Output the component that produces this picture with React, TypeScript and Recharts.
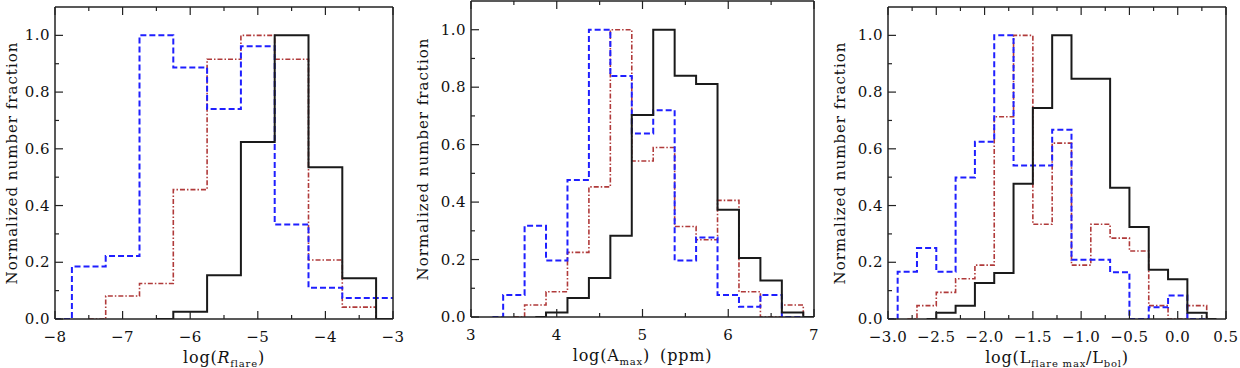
import React from 'react';
import { LineChart, Line, XAxis, YAxis, Label } from 'recharts';

// panel 1: log(R_flare), bin centres
const rBins = [-8, -7.5, -7, -6.5, -6, -5.5, -5, -4.5, -4, -3.5, -3];
const rBlack = [null, null, null, 0, 0.026, 0.154, 0.624, 1.0, 0.535, 0.144, 0];
const rBlue = [0, 0.185, 0.222, 1.0, 0.887, 0.74, 0.962, 0.333, 0.11, 0.074, 0.074];
const rRed = [null, 0, 0.081, 0.125, 0.456, 0.916, 1.0, 0.916, 0.208, 0.042, 0];
const rTicks = [-8, -7.5, -7, -6.5, -6, -5.5, -5, -4.5, -4, -3.5, -3];
const rLabels = [-8, -7, -6, -5, -4, -3];

// panel 2: log(A_max)
const aBins = [3.25, 3.5, 3.75, 4, 4.25, 4.5, 4.75, 5, 5.25, 5.5, 5.75, 6, 6.25, 6.5, 6.75, 7];
const aBlack = [null, null, 0, 0.016, 0.066, 0.136, 0.283, 0.703, 1.0, 0.84, 0.811, 0.373, 0.205, 0.127, 0.016, 0];
const aBlue = [0, 0.077, 0.318, 0.197, 0.477, 1.0, 0.839, 0.639, 0.72, 0.197, 0.277, 0.077, 0.036, 0.077, 0, 0];
const aRed = [null, 0, 0.042, 0.088, 0.225, 0.453, 1.0, 0.543, 0.59, 0.315, 0.269, 0.406, 0.088, 0, 0.042, 0];
const aTicks = [3, 3.5, 4, 4.5, 5, 5.5, 6, 6.5, 7];
const aLabels = [3, 4, 5, 6, 7];

// panel 3: log(L_flare max / L_bol)
const lBins = [-3, -2.8, -2.6, -2.4, -2.2, -2, -1.8, -1.6, -1.4, -1.2, -1, -0.8, -0.6, -0.4, -0.2, 0, 0.2, 0.4];
const lBlack = [null, null, 0, 0.022, 0.047, 0.127, 0.162, 0.477, 0.744, 1.0, 0.847, 0.847, 0.463, 0.324, 0.174, 0.14, 0.022, 0];
const lBlue = [0, 0.167, 0.25, 0.167, 0.499, 0.625, 1.0, 0.541, 0.541, 0.667, 0.209, 0.209, 0.165, 0, 0.041, 0.083, 0, 0];
const lRed = [null, 0, 0.047, 0.094, 0.142, 0.19, 0.713, 1.0, 0.334, 0.62, 0.19, 0.334, 0.285, 0.24, 0.047, 0, 0.047, 0];
const lTicks = [-3, -2.75, -2.5, -2.25, -2, -1.75, -1.5, -1.25, -1, -0.75, -0.5, -0.25, 0, 0.25, 0.5];
const lLabels = [-3, -2.5, -2, -1.5, -1, -0.5, 0, 0.5];

const yTicks = [0, 0.1, 0.2, 0.3, 0.4, 0.5, 0.6, 0.7, 0.8, 0.9, 1.0];
const yLabels = [0, 0.2, 0.4, 0.6, 0.8, 1.0];

const FONT = '"DejaVu Serif", serif';
const AXIS = '#222';

const buildRows = (bins: number[], black: any[], blue: any[], red: any[]) =>
  bins.map((x, i) => ({ x, black: black[i], blue: blue[i], red: red[i] }));

const minus = (s: string) => s.replace('-', '\u2212');

function BottomTick(props: any) {
  const { x, y, payload, labels, digits } = props;
  const major = labels.includes(payload.value);
  return (
    <g>
      <line x1={x} y1={y} x2={x} y2={y - (major ? 8 : 4)} stroke={AXIS} strokeWidth={1.2} />
      {major && (
        <text x={x} y={y + 23} textAnchor="middle" fontFamily={FONT} fontSize={15} fill="#111" letterSpacing={0.5}>
          {minus(payload.value.toFixed(digits))}
        </text>
      )}
    </g>
  );
}

function TopTick(props: any) {
  const { x, y, payload, labels } = props;
  const major = labels.includes(payload.value);
  return <line x1={x} y1={y} x2={x} y2={y + (major ? 8 : 4)} stroke={AXIS} strokeWidth={1.2} />;
}

function LeftTick(props: any) {
  const { x, y, payload } = props;
  const major = yLabels.includes(payload.value);
  return (
    <g>
      <line x1={x} y1={y} x2={x + (major ? 8 : 4)} y2={y} stroke={AXIS} strokeWidth={1.2} />
      {major && (
        <text x={x - 5} y={y + 5} textAnchor="end" fontFamily={FONT} fontSize={15} fill="#111" letterSpacing={0.5}>
          {payload.value.toFixed(1)}
        </text>
      )}
    </g>
  );
}

function RightTick(props: any) {
  const { x, y, payload } = props;
  const major = yLabels.includes(payload.value);
  return <line x1={x} y1={y} x2={x - (major ? 8 : 4)} y2={y} stroke={AXIS} strokeWidth={1.2} />;
}

function Panel({ rows, domain, ticks, labels, digits, width, left, yAxisWidth, titleX, margin, xHeight, xTitle }: any) {
  return (
    <div style={{ position: 'absolute', left, top: 0 }}>
      <LineChart width={width} height={368} data={rows} margin={margin}>
        <XAxis
          dataKey="x"
          type="number"
          domain={domain}
          ticks={ticks}
          interval={0}
          allowDataOverflow
          height={xHeight}
          tickSize={0}
          tickMargin={0}
          tickLine={false}
          axisLine={{ stroke: AXIS, strokeWidth: 1.5 }}
          tick={(p: any) => <BottomTick {...p} labels={labels} digits={digits} />}
        >
          <Label
            content={(p: any) => {
              const vb = p.viewBox;
              return (
                <text x={vb.x + vb.width / 2} y={vb.y + 44} textAnchor="middle" fontFamily={FONT} fontSize={16} fill="#111" letterSpacing={0.8}>
                  {xTitle}
                </text>
              );
            }}
          />
        </XAxis>
        <XAxis
          xAxisId="top"
          orientation="top"
          dataKey="x"
          type="number"
          domain={domain}
          ticks={ticks}
          interval={0}
          allowDataOverflow
          height={1}
          tickSize={0}
          tickMargin={0}
          tickLine={false}
          axisLine={{ stroke: AXIS, strokeWidth: 1.5 }}
          tick={(p: any) => <TopTick {...p} labels={labels} />}
        />
        <YAxis
          type="number"
          domain={[0, 1.1]}
          ticks={yTicks}
          interval={0}
          allowDataOverflow
          width={yAxisWidth}
          tickSize={0}
          tickMargin={0}
          tickLine={false}
          axisLine={{ stroke: AXIS, strokeWidth: 1.5 }}
          tick={(p: any) => <LeftTick {...p} />}
        >
          <Label
            content={(p: any) => {
              const vb = p.viewBox;
              const cx = vb.x + titleX;
              const cy = vb.y + vb.height / 2;
              return (
                <text
                  x={cx}
                  y={cy}
                  transform={`rotate(-90 ${cx} ${cy})`}
                  textAnchor="middle"
                  dominantBaseline="central"
                  fontFamily={FONT}
                  fontSize={15}
                  fill="#111"
                  letterSpacing={1}
                >
                  Normalized number fraction
                </text>
              );
            }}
          />
        </YAxis>
        <YAxis
          yAxisId="right"
          orientation="right"
          type="number"
          domain={[0, 1.1]}
          ticks={yTicks}
          interval={0}
          width={1}
          tickSize={0}
          tickMargin={0}
          tickLine={false}
          axisLine={{ stroke: AXIS, strokeWidth: 1.5 }}
          tick={(p: any) => <RightTick {...p} />}
        />
        <Line type="step" dataKey="red" stroke="#b03a3a" strokeWidth={1.6} strokeDasharray="5 2 1.5 2" dot={false} isAnimationActive={false} />
        <Line type="step" dataKey="blue" stroke="#1f1fff" strokeWidth={2} strokeDasharray="6 3" dot={false} isAnimationActive={false} />
        <Line type="step" dataKey="black" stroke="#1a1a1a" strokeWidth={2} dot={false} isAnimationActive={false} />
      </LineChart>
    </div>
  );
}

const sub = { fontSize: 10 };

export default function App() {
  return (
    <div style={{ position: 'absolute', left: 0, top: 0, width: 1240, height: 368, background: '#fff', overflow: 'hidden' }}>
      <Panel
        rows={buildRows(rBins, rBlack, rBlue, rRed)}
        domain={[-8, -3]}
        ticks={rTicks}
        labels={rLabels}
        digits={0}
        left={0}
        width={412}
        yAxisWidth={55}
        titleX={12}
        margin={{ top: 6, right: 18, bottom: 0, left: 0 }}
        xHeight={49}
        xTitle={
          <>
            log(<tspan fontStyle="italic">R</tspan>
            <tspan {...sub} dy={4}>flare</tspan>
            <tspan dy={-4}>)</tspan>
          </>
        }
      />
      <Panel
        rows={buildRows(aBins, aBlack, aBlue, aRed)}
        domain={[3, 7]}
        ticks={aTicks}
        labels={aLabels}
        digits={0}
        left={410}
        width={410}
        yAxisWidth={61}
        titleX={13}
        margin={{ top: 0, right: 5, bottom: 0, left: 0 }}
        xHeight={51}
        xTitle={
          <>
            log(A<tspan {...sub} dy={4}>max</tspan>
            <tspan dy={-4}>)</tspan>
            <tspan dx={10}>(ppm)</tspan>
          </>
        }
      />
      <Panel
        rows={buildRows(lBins, lBlack, lBlue, lRed)}
        domain={[-3, 0.5]}
        ticks={lTicks}
        labels={lLabels}
        digits={1}
        left={820}
        width={420}
        yAxisWidth={68}
        titleX={20}
        margin={{ top: 6, right: 13, bottom: 0, left: 0 }}
        xHeight={49}
        xTitle={
          <>
            log(L<tspan {...sub} dy={4}>flare max</tspan>
            <tspan dy={-4}>/L</tspan>
            <tspan {...sub} dy={4}>bol</tspan>
            <tspan dy={-4}>)</tspan>
          </>
        }
      />
    </div>
  );
}
